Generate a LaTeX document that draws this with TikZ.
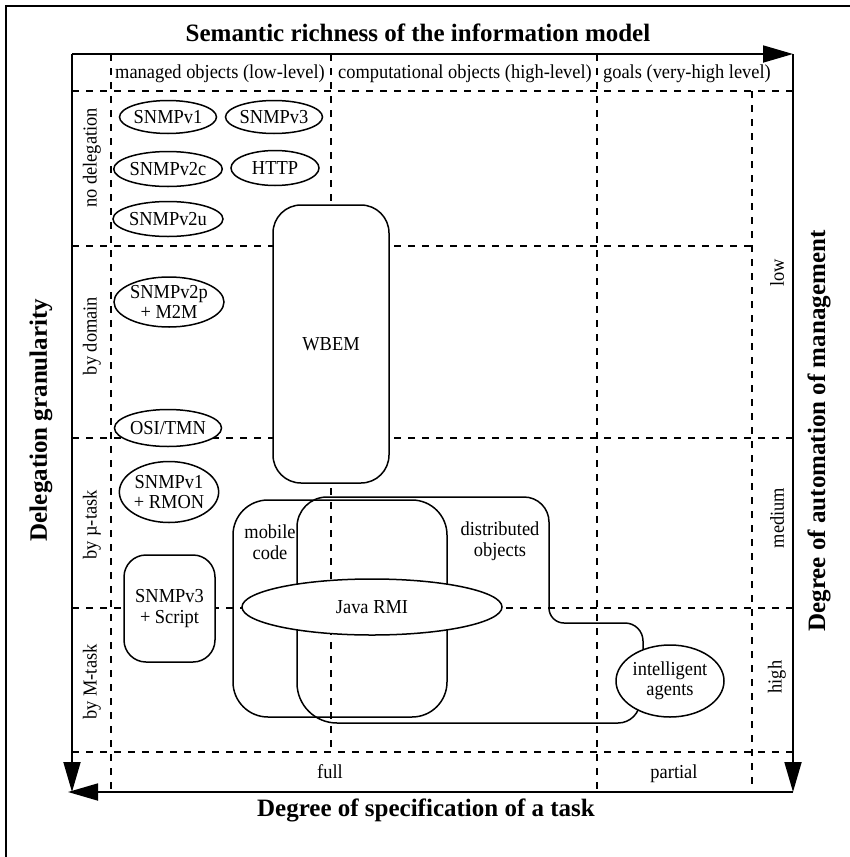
\documentclass[tikz,border=0pt]{standalone}
\usepackage{fontspec}
\setmainfont{Liberation Serif}
\newfontfamily\labelfont{Liberation Serif}[FakeStretch=0.93]
\usetikzlibrary{shapes.geometric,arrows.meta}
\begin{document}
\begin{tikzpicture}[x=1pt,y=-1pt,
  lbl/.style={font=\labelfont\fontsize{19.8}{20.5}\selectfont, inner sep=0pt, align=center},
  ttl/.style={font=\bfseries\fontsize{25}{26}\selectfont, inner sep=0pt},
  grid/.style={dash pattern=on 7pt off 7pt, line width=1.2pt},
  axis/.style={line width=1.8pt, -{Triangle[length=30pt,width=17pt]}},
  oval/.style={ellipse, draw, line width=1.5pt, fill=white, inner sep=0pt, lbl},
  rbox/.style={draw, line width=1.5pt, fill=white, lbl},
  region/.style={draw, line width=1.5pt}
]
\useasboundingbox (0,0) rectangle (850,857);

% outer frame
\draw[line width=1.5pt] (850,6) -- (6,6) -- (6,857);

% corners of the axis frame
\coordinate (TL) at (72,54);
\coordinate (TR) at (793,54);
\coordinate (BL) at (72,792);
\coordinate (BR) at (793,792);
\coordinate (BLtip) at (68,792);

% dashed grid
\draw[grid] (72,91) -- (793,91);
\draw[grid] (72,246) -- (752,246);
\draw[grid] (72,438) -- (793,438);
\draw[grid] (72,608) -- (793,608);
\draw[grid] (72,752) -- (793,752);
\draw[grid] (111,54) -- (111,792);
\draw[grid] (331,54) -- (331,752);
\draw[grid] (597,54) -- (597,792);
\draw[grid] (752,91) -- (752,792);

% axes
\draw[axis] (TL) -- (TR);
\draw[axis] (TL) -- (BL);
\draw[axis] (TR) -- (BR);
\draw[axis] (BR) -- (BLtip);

% mobile code region
\node[region, rounded corners=35pt, minimum width=214pt, minimum height=217pt] (mobile) at (340,608.5) {};
\node[lbl] (mobilelbl) at (270,542) {mobile\\code};

% distributed objects region
\draw[region] (643,680) [rounded corners=18pt] -- (643,623)
  [rounded corners=15pt] -- (549,623)
  [rounded corners=25pt] -- (549,497)
  [rounded corners=30pt] -- (297,497)
  [rounded corners=40pt] -- (297,723)
  [rounded corners=22pt] -- (640,723) -- (640,690);
\node[lbl] (distlbl) at (500,541) {distributed\\objects};

% boxes
\node[rbox, rounded corners=28pt, minimum width=116pt, minimum height=278pt] (wbem) at (331,344) {WBEM};
\node[rbox, rounded corners=22pt, minimum width=91pt, minimum height=107pt] (script) at (169.5,608.5) {SNMPv3\\+ Script};

% protocol ovals
\node[oval, minimum width=88pt, minimum height=33pt] (v1) at (168,117) {SNMPv1};
\node[oval, minimum width=88pt, minimum height=33pt] (v3) at (274,117) {SNMPv3};
\node[oval, minimum width=88pt, minimum height=35pt] (v2c) at (168,169) {SNMPv2c};
\node[oval, minimum width=88pt, minimum height=35pt] (http) at (275,168) {HTTP};
\node[oval, minimum width=88pt, minimum height=35pt] (v2u) at (168,219) {SNMPv2u};
\node[oval, minimum width=92pt, minimum height=50pt] (v2p) at (169,302) {SNMPv2p\\+ M2M};
\node[oval, minimum width=90pt, minimum height=37pt] (osi) at (168,428) {OSI/TMN};
\node[oval, minimum width=92pt, minimum height=61pt] (rmon) at (169,492) {SNMPv1\\+ RMON};
\node[oval, minimum width=260pt, minimum height=56pt] (rmi) at (372,607) {Java RMI};
\node[oval, minimum width=108pt, minimum height=72pt] (agents) at (670,681) {intelligent\\agents};

% column headings
\node[lbl, anchor=base] (c1) at (220,78) {managed objects (low-level)};
\node[lbl, anchor=base] (c2) at (465,78) {computational objects (high-level)};
\node[lbl, anchor=base] (c3) at (687,78) {goals (very-high level)};

% row headings
\node[lbl, rotate=90] (r1) at (92,158) {no delegation};
\node[lbl, rotate=90] (r2) at (92,336) {by domain};
\node[lbl, rotate=90] (r3) at (92,525) {by µ-task};
\node[lbl, rotate=90] (r4) at (92,682) {by M-task};

% automation levels
\node[lbl, rotate=90] (a1) at (777,273) {low};
\node[lbl, rotate=90] (a2) at (777,518) {medium};
\node[lbl, rotate=90] (a3) at (777,677) {high};

% specification levels
\node[lbl, anchor=base] (s1) at (330,778) {full};
\node[lbl, anchor=base] (s2) at (674,778) {partial};

% axis titles
\node[ttl, anchor=base] (top) at (418,41) {Semantic richness of the information model};
\node[ttl, anchor=base] (bottom) at (426,816) {Degree of specification of a task};
\node[ttl, rotate=90] (left) at (41,420) {Delegation granularity};
\node[ttl, rotate=90] (right) at (819,431) {Degree of automation of management};
\end{tikzpicture}
\end{document}
